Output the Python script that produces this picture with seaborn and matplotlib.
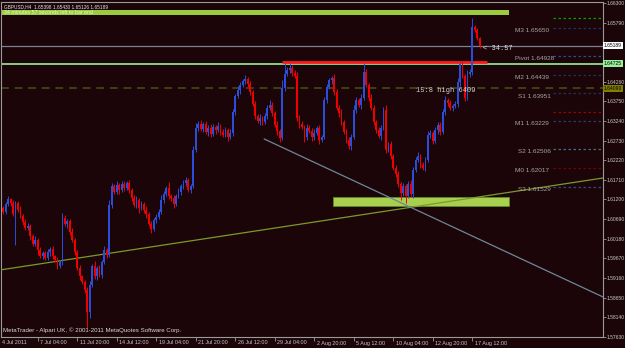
import numpy as np
import matplotlib
matplotlib.use("Agg")
import matplotlib.pyplot as plt
import seaborn as sns
from matplotlib.patches import Rectangle

# ---------------- data ----------------
symbol_info = "GBPUSD,H4  1.65398 1.65430 1.65126 1.65189"
timer_text = "34 minutes 57 seconds left to bar end"
copyright_text = "MetaTrader - Alpari UK, \u00a9 2001-2011 MetaQuotes Software Corp."

first_bar = 2  # index of first visible H4 bar

opens = [
    1.6098, 1.6088, 1.6108, 1.6121, 1.6111, 1.6082, 1.6111, 1.6093, 1.6077, 1.6062,
    1.6046, 1.6051, 1.6025, 1.6005, 1.6015, 1.5989, 1.5973, 1.5981, 1.5968, 1.5984,
    1.5992, 1.5973, 1.5963, 1.5947, 1.5958, 1.6072, 1.6056, 1.6064, 1.6036, 1.6015,
    1.5984, 1.5942, 1.5921, 1.5906, 1.5885, 1.5828, 1.5898, 1.5947, 1.5921, 1.5942,
    1.5924, 1.5958, 1.5989, 1.5976, 1.6106, 1.6155, 1.6140, 1.6158, 1.6145, 1.6160,
    1.6150, 1.6163, 1.6145, 1.6124, 1.6106, 1.6119, 1.6098, 1.6108, 1.6093, 1.6082,
    1.6056, 1.6044, 1.6067, 1.6075, 1.6088, 1.6119, 1.6134, 1.6150, 1.6129, 1.6124,
    1.6108, 1.6129, 1.6140, 1.6155, 1.6163, 1.6171, 1.6145, 1.6155, 1.6249, 1.6306,
    1.6316, 1.6303, 1.6316, 1.6295, 1.6306, 1.6290, 1.6308, 1.6300, 1.6311, 1.6295,
    1.6288, 1.6300, 1.6282, 1.6293, 1.6347, 1.6389, 1.6404, 1.6417, 1.6428, 1.6433,
    1.6420, 1.6399, 1.6368, 1.6337, 1.6324, 1.6332, 1.6321, 1.6337, 1.6358, 1.6365,
    1.6345, 1.6314, 1.6298, 1.6280, 1.6410, 1.6446, 1.6456, 1.6462, 1.6449, 1.6441,
    1.6332, 1.6316, 1.6308, 1.6282, 1.6306, 1.6298, 1.6282, 1.6293, 1.6306, 1.6275,
    1.6282, 1.6378, 1.6412, 1.6430, 1.6436, 1.6399, 1.6358, 1.6345, 1.6321, 1.6295,
    1.6275, 1.6259, 1.6282, 1.6352, 1.6378, 1.6365, 1.6384, 1.6451, 1.6417, 1.6384,
    1.6358, 1.6321, 1.6300, 1.6285, 1.6306, 1.6352, 1.6249, 1.6264, 1.6233, 1.6202,
    1.6186, 1.6160, 1.6137, 1.6155, 1.6129, 1.6160, 1.6134, 1.6197, 1.6223, 1.6233,
    1.6210, 1.6202, 1.6223, 1.6288, 1.6293, 1.6272, 1.6300, 1.6314, 1.6295, 1.6347,
    1.6378, 1.6371, 1.6358, 1.6363, 1.6368, 1.6425, 1.6472, 1.6441, 1.6384, 1.6446,
    1.6451, 1.6568, 1.6560, 1.65398,
]
closes = [
    1.6088, 1.6108, 1.6121, 1.6111, 1.6082, 1.6111, 1.6093, 1.6077, 1.6062, 1.6046,
    1.6051, 1.6025, 1.6005, 1.6015, 1.5989, 1.5973, 1.5981, 1.5968, 1.5984, 1.5992,
    1.5973, 1.5963, 1.5947, 1.5958, 1.6072, 1.6056, 1.6064, 1.6036, 1.6015, 1.5984,
    1.5942, 1.5921, 1.5906, 1.5885, 1.5828, 1.5898, 1.5947, 1.5921, 1.5942, 1.5924,
    1.5958, 1.5989, 1.5976, 1.6106, 1.6155, 1.6140, 1.6158, 1.6145, 1.6160, 1.6150,
    1.6163, 1.6145, 1.6124, 1.6106, 1.6119, 1.6098, 1.6108, 1.6093, 1.6082, 1.6056,
    1.6044, 1.6067, 1.6075, 1.6088, 1.6119, 1.6134, 1.6150, 1.6129, 1.6124, 1.6108,
    1.6129, 1.6140, 1.6155, 1.6163, 1.6171, 1.6145, 1.6155, 1.6249, 1.6306, 1.6316,
    1.6303, 1.6316, 1.6295, 1.6306, 1.6290, 1.6308, 1.6300, 1.6311, 1.6295, 1.6288,
    1.6300, 1.6282, 1.6293, 1.6347, 1.6389, 1.6404, 1.6417, 1.6428, 1.6433, 1.6420,
    1.6399, 1.6368, 1.6337, 1.6324, 1.6332, 1.6321, 1.6337, 1.6358, 1.6365, 1.6345,
    1.6314, 1.6298, 1.6280, 1.6410, 1.6446, 1.6456, 1.6462, 1.6449, 1.6441, 1.6332,
    1.6316, 1.6308, 1.6282, 1.6306, 1.6298, 1.6282, 1.6293, 1.6306, 1.6275, 1.6282,
    1.6378, 1.6412, 1.6430, 1.6436, 1.6399, 1.6358, 1.6345, 1.6321, 1.6295, 1.6275,
    1.6259, 1.6282, 1.6352, 1.6378, 1.6365, 1.6384, 1.6451, 1.6417, 1.6384, 1.6358,
    1.6321, 1.6300, 1.6285, 1.6306, 1.6352, 1.6249, 1.6264, 1.6233, 1.6202, 1.6186,
    1.6160, 1.6137, 1.6155, 1.6129, 1.6160, 1.6134, 1.6197, 1.6223, 1.6233, 1.6210,
    1.6202, 1.6223, 1.6288, 1.6293, 1.6272, 1.6300, 1.6314, 1.6295, 1.6347, 1.6378,
    1.6371, 1.6358, 1.6363, 1.6368, 1.6425, 1.6472, 1.6441, 1.6384, 1.6446, 1.6451,
    1.6568, 1.6560, 1.6539, 1.65189,
]
upper_wick_pips = [
    6, 5, 8, 4, 7, 6, 5, 9, 4, 6,
    8, 5, 6, 10, 4, 7, 5, 6, 8, 5,
    6, 4, 7, 5, 12, 8, 6, 5, 9, 6,
    5, 7, 4, 6, 8, 10, 6, 12, 5, 7,
    6, 9, 5, 12, 8, 6, 10, 5, 7, 9,
    6, 8, 5, 7, 10, 6, 8, 5, 9, 6,
    7, 5, 8, 6, 12, 7, 5, 15, 6, 8,
    5, 9, 6, 7, 8, 5, 6, 10, 12, 7,
    9, 5, 8, 6, 10, 7, 5, 9, 6, 8,
    7, 5, 9, 8, 6, 10, 7, 5, 10, 6,
    8, 5, 7, 6, 9, 5, 8, 6, 12, 7,
    5, 9, 6, 20, 29, 8, 11, 6, 7, 10,
    6, 8, 5, 9, 6, 7, 10, 5, 8, 6,
    9, 7, 6, 5, 10, 8, 6, 9, 5, 7,
    6, 8, 12, 7, 5, 9, 24, 8, 6, 10,
    7, 5, 8, 6, 9, 12, 6, 8, 5, 7,
    9, 6, 8, 5, 7, 10, 6, 8, 9, 5,
    7, 6, 10, 8, 5, 9, 6, 7, 8, 10,
    6, 8, 5, 7, 9, 6, 8, 5, 10, 7,
    23, 6, 5, 3,
]
lower_wick_pips = [
    7, 5, 6, 9, 5, 80, 6, 5, 8, 6,
    5, 9, 6, 7, 12, 5, 8, 6, 5, 10,
    7, 6, 8, 5, 9, 6, 10, 7, 5, 8,
    6, 9, 5, 7, 41, 15, 6, 8, 10, 5,
    7, 6, 9, 5, 8, 6, 7, 10, 5, 8,
    6, 9, 7, 5, 8, 12, 6, 7, 9, 5,
    10, 6, 8, 7, 5, 9, 6, 8, 7, 10,
    6, 5, 8, 7, 9, 6, 8, 5, 7, 9,
    6, 8, 5, 10, 7, 6, 9, 5, 8, 7,
    6, 9, 5, 8, 7, 6, 10, 5, 8, 7,
    9, 6, 8, 5, 10, 7, 6, 9, 5, 8,
    7, 10, 12, 6, 8, 5, 7, 9, 6, 8,
    10, 6, 12, 7, 5, 9, 8, 6, 10, 7,
    6, 8, 5, 9, 7, 6, 10, 8, 5, 9,
    7, 10, 6, 8, 5, 9, 7, 6, 8, 5,
    9, 7, 6, 10, 5, 8, 7, 9, 6, 8,
    7, 19, 9, 17, 6, 8, 10, 5, 7, 9,
    6, 8, 5, 9, 7, 6, 10, 8, 5, 7,
    9, 6, 8, 5, 7, 10, 6, 8, 5, 9,
    7, 5, 6, 6,
]

time_tick_bars = [0, 16, 32, 48, 64, 80, 96, 112, 128, 144, 160, 176, 192]
time_tick_labels = ["4 Jul 2011", "7 Jul 04:00", "11 Jul 20:00", "14 Jul 12:00",
                    "19 Jul 04:00", "21 Jul 20:00", "26 Jul 12:00", "29 Jul 04:00",
                    "2 Aug 20:00", "5 Aug 12:00", "10 Aug 04:00", "12 Aug 20:00",
                    "17 Aug 12:00"]
price_ticks = [1.66300, 1.65790, 1.65280, 1.64770, 1.64260, 1.63750, 1.63240, 1.62730,
               1.62220, 1.61710, 1.61200, 1.60690, 1.60180, 1.59670, 1.59160, 1.58650,
               1.58140, 1.57630]
price_tick_labels = ["1.66300", "1.65790", "", "", "1.64260", "1.63750", "1.63240",
                     "1.62730", "1.62220", "1.61710", "1.61200", "1.60690", "1.60180",
                     "1.59670", "1.59160", "1.58650", "1.58140", "1.57630"]

bid_price = 1.65189
green_level = 1.64725
olive_level = 1.64090
red_level = 1.6477
red_level_bars = [114.9, 198.0]

pivot_names = ["", "M3", "Pivot", "M2", "S1", "", "M1", "S2", "M0", "S3"]
pivot_values = [1.65905, 1.65650, 1.64928, 1.64439, 1.63951, 1.63483, 1.63229, 1.62506, 1.62017, 1.61529]
pivot_colors = ["#00a000", "#1f2f70", "#2f4a98", "#25305a", "#25305a", "#a00000",
                "#2a3a78", "#4a6a8a", "#7a0000", "#2d4c86"]

top_band_bars = [-2.0, 206.9]
top_band_prices = [1.6600, 1.6612]
zone_bars = [135.6, 206.9]
zone_prices = [1.6103, 1.6126]

green_trend_bars = [0.73, 244.9]
green_trend_prices = [1.59369, 1.61757]
gray_trend_bars = [107.7, 244.9]
gray_trend_prices = [1.62770, 1.58668]

note_high = "15:8 high 6409"
note_high_pos = (169.2, 1.6404)
note_dist = "< 34.57"
note_dist_pos = (196.4, 1.6513)

# ---------------- style ----------------
BG = "#1b0508"
BULL = "#2b4ddc"
BEAR = "#f00000"
FRAME = "#9a9a9a"
TXT = "#c8c8c8"

sns.set_theme(style="dark", rc={"axes.facecolor": BG, "figure.facecolor": BG,
                                "axes.edgecolor": FRAME, "axes.grid": False})
plt.rcParams["font.family"] = ["Liberation Sans", "DejaVu Sans"]

fig = plt.figure(figsize=(6.25, 3.48), dpi=100, facecolor=BG)
ax = fig.add_axes([1.5 / 625, 11 / 348, 601.5 / 625, 335 / 348])
ax.set_facecolor(BG)

xmin, xmax = 1.34, 244.9
ymin, ymax = 1.57629, 1.66326
ax.set_xlim(xmin, xmax)
ax.set_ylim(ymin, ymax)

# rectangles (background objects)
ax.add_patch(Rectangle((top_band_bars[0], top_band_prices[0]),
                       top_band_bars[1] - top_band_bars[0],
                       top_band_prices[1] - top_band_prices[0],
                       facecolor="#9ccc3e", edgecolor="none", zorder=1))
ax.add_patch(Rectangle((zone_bars[0], zone_prices[0]), zone_bars[1] - zone_bars[0],
                       zone_prices[1] - zone_prices[0], facecolor="#a8d04e",
                       edgecolor="#5f8a22", linewidth=0.6, zorder=1))

# horizontal levels
ax.axhline(bid_price, color="#7c8090", lw=0.9, zorder=2)
ax.axhline(green_level, color="#98f098", lw=1.2, zorder=2)
ax.axhline(olive_level, color="#404014", lw=1.4, ls=(0, (4, 3)), zorder=2)
ax.hlines(red_level, red_level_bars[0], red_level_bars[1], color="#ff1a1a", lw=2.0, zorder=4)

# pivot levels on the right
for name, val, col in zip(pivot_names, pivot_values, pivot_colors):
    ax.hlines(val, 224.7, xmax, color=col, lw=0.9, ls=(0, (2, 2)), zorder=2)
    if name:
        xoff = 210.6 if name.startswith("S") else 209.4
        ax.text(xoff, val - 0.00002, f"{name} {val:.5f}", color="#a6a6a6",
                fontsize=4.6, ha="left", va="top", zorder=5)

# trend lines
sns.lineplot(x=green_trend_bars, y=green_trend_prices, ax=ax, color="#7b9a2c",
             lw=0.9, zorder=3)
sns.lineplot(x=gray_trend_bars, y=gray_trend_prices, ax=ax, color="#6e8796",
             lw=0.9, zorder=3)

# candles
o = np.array(opens)
c = np.array(closes)
up = np.array(upper_wick_pips) * 1e-4
dn = np.array(lower_wick_pips) * 1e-4
x = np.arange(first_bar, first_bar + len(c))
hi = np.maximum(o, c) + up
lo = np.minimum(o, c) - dn
cols = np.where(c >= o, BULL, BEAR)
ax.vlines(x, lo, hi, colors=cols, lw=0.7, zorder=5)
body = np.maximum(np.abs(c - o), 0.00012)
ax.bar(x, body, bottom=np.minimum(o, c), width=0.72, color=cols, linewidth=0, zorder=6)

# annotations
ax.text(*note_high_pos, note_high, family=["Liberation Mono", "DejaVu Sans Mono"],
        fontsize=5.0, color="#d4d4d4", ha="left", va="center", zorder=7)
ax.text(*note_dist_pos, note_dist, family=["Liberation Mono", "DejaVu Sans Mono"],
        fontsize=5.0, color="#e0e0e0", ha="left", va="center", zorder=7)
ax.text(0.004, 1 - 5 / 335, symbol_info, transform=ax.transAxes, color="#e8e8e8",
        fontsize=3.4, ha="left", va="center", zorder=8)
ax.text(0.004, 1 - 10.5 / 335, timer_text, transform=ax.transAxes, color="#e6f5d0",
        fontsize=3.8, ha="left", va="center", zorder=8)
ax.text(0.003, 6.5 / 335, copyright_text, transform=ax.transAxes, color="#d8d8d8",
        fontsize=4.4, ha="left", va="center", zorder=8)

# axes, ticks
for s in ax.spines.values():
    s.set_color(FRAME)
    s.set_linewidth(0.8)
ax.yaxis.tick_right()
ax.set_yticks(price_ticks)
ax.set_yticklabels(price_tick_labels)
ax.tick_params(axis="y", which="both", right=True, left=False, labelright=True,
               labelleft=False, length=2.0, width=0.6, pad=0.6, labelsize=3.6,
               colors=FRAME, labelcolor=TXT, direction="out")
ax.set_xticks(time_tick_bars[1:])
ax.set_xticklabels([])
ax.tick_params(axis="x", which="both", bottom=True, length=3, width=0.6,
               colors=FRAME, direction="out")
for b, lab in zip(time_tick_bars, time_tick_labels):
    xb = max(b + 0.93, 1.42)
    ax.text(xb, -6 / 335, lab, transform=ax.get_xaxis_transform(), color=TXT,
            fontsize=3.9, ha="left", va="center", clip_on=False)

# price labels with backgrounds on the right axis
for val, fc in [(bid_price, "#ffffff"), (green_level, "#98f098"), (olive_level, "#808000")]:
    ax.text(1.0012, val, f"{val:.5f}", transform=ax.get_yaxis_transform(),
            color="#000000", fontsize=3.6, ha="left", va="center", clip_on=False,
            bbox=dict(boxstyle="square,pad=0.2", fc=fc, ec="none"), zorder=10)

ax.set_xlabel("")
ax.set_ylabel("")
fig.savefig("out.png", dpi=100, facecolor=BG)
